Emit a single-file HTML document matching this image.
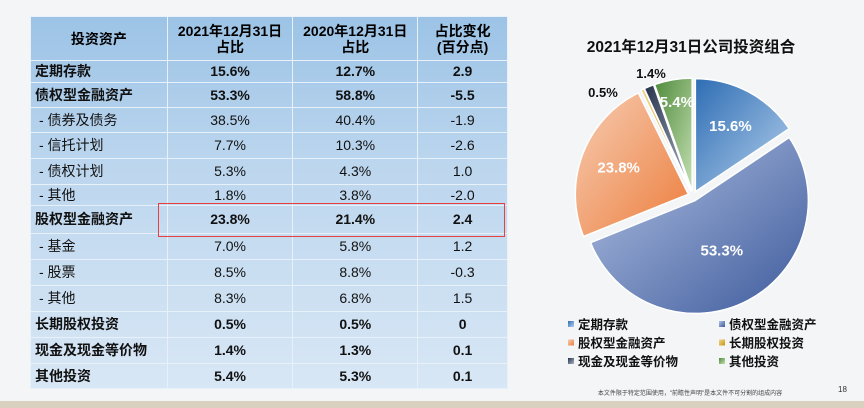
<!DOCTYPE html>
<html><head><meta charset="utf-8"><style>
body{margin:0;width:864px;height:408px;overflow:hidden;background:#f3f5f6;font-family:"Liberation Sans","Noto Sans CJK SC",sans-serif;position:relative}
table{position:absolute;left:30px;top:16px;border-collapse:collapse;width:478px;background:linear-gradient(#9cc3e6,#bcd6ee 40%,#d8e7f5)}
td{border:1.5px solid #e8f1fa;font-size:14px;color:#111;text-align:center;padding:0;line-height:15px}
td:first-child{text-align:left;padding-left:4px}
tr.b td{font-weight:bold}
tr.s td:first-child{padding-left:8px}
th{border:1.5px solid #e8f1fa;font-size:14px;font-weight:bold;line-height:16px}
</style></head><body>
<div style="position:absolute;left:0;top:401px;width:864px;height:7px;background:#d9d0bf"></div>
<table>
<colgroup><col style="width:137px"><col style="width:126px"><col style="width:125px"><col style="width:90px"></colgroup>
<tr style="height:44px"><th>投资资产</th><th>2021年12月31日<br>占比</th><th>2020年12月31日<br>占比</th><th>占比变化<br>(百分点)</th></tr>
<tr class="b" style="height:22px"><td>定期存款</td><td>15.6%</td><td>12.7%</td><td>2.9</td></tr>
<tr class="b" style="height:25px"><td>债权型金融资产</td><td>53.3%</td><td>58.8%</td><td>-5.5</td></tr>
<tr class="s" style="height:25px"><td>- 债券及债务</td><td>38.5%</td><td>40.4%</td><td>-1.9</td></tr>
<tr class="s" style="height:26px"><td>- 信托计划</td><td>7.7%</td><td>10.3%</td><td>-2.6</td></tr>
<tr class="s" style="height:26px"><td>- 债权计划</td><td>5.3%</td><td>4.3%</td><td>1.0</td></tr>
<tr class="s" style="height:21px"><td>- 其他</td><td>1.8%</td><td>3.8%</td><td>-2.0</td></tr>
<tr class="b" style="height:28px"><td>股权型金融资产</td><td>23.8%</td><td>21.4%</td><td>2.4</td></tr>
<tr class="s" style="height:26px"><td>- 基金</td><td>7.0%</td><td>5.8%</td><td>1.2</td></tr>
<tr class="s" style="height:26px"><td>- 股票</td><td>8.5%</td><td>8.8%</td><td>-0.3</td></tr>
<tr class="s" style="height:26px"><td>- 其他</td><td>8.3%</td><td>6.8%</td><td>1.5</td></tr>
<tr class="b" style="height:26px"><td>长期股权投资</td><td>0.5%</td><td>0.5%</td><td>0</td></tr>
<tr class="b" style="height:26px"><td>现金及现金等价物</td><td>1.4%</td><td>1.3%</td><td>0.1</td></tr>
<tr class="b" style="height:25px"><td>其他投资</td><td>5.4%</td><td>5.3%</td><td>0.1</td></tr>
</table>
<div style="position:absolute;left:158px;top:203px;width:345px;height:32px;border:1.5px solid #e8403f"></div>
<svg id="pie" width="864" height="408" style="position:absolute;left:0;top:0">
<defs>
<linearGradient id="g0" x1="0" y1="0" x2="1" y2="1"><stop offset="0" stop-color="#2e6db4"/><stop offset="1" stop-color="#b4d0ec"/></linearGradient>
<linearGradient id="g1" x1="0" y1="0" x2="1" y2="1"><stop offset="0" stop-color="#b3c3e3"/><stop offset="1" stop-color="#3d5a9c"/></linearGradient>
<linearGradient id="g2" x1="0" y1="0" x2="1" y2="1"><stop offset="0" stop-color="#f6cdb3"/><stop offset="1" stop-color="#ed7d3c"/></linearGradient>
<linearGradient id="g3" x1="0" y1="0" x2="1" y2="1"><stop offset="0" stop-color="#f2d68a"/><stop offset="1" stop-color="#c8960e"/></linearGradient>
<linearGradient id="g4" x1="0" y1="0" x2="1" y2="1"><stop offset="0" stop-color="#26324a"/><stop offset="1" stop-color="#aab4c6"/></linearGradient>
<linearGradient id="g5" x1="0" y1="0" x2="1" y2="1"><stop offset="0" stop-color="#4f8a3c"/><stop offset="1" stop-color="#c4e0b2"/></linearGradient>
</defs>
<text x="691" y="52" text-anchor="middle" font-size="15.5" font-weight="bold" fill="#111">2021年12月31日公司投资组合</text>
<g id="slices"></g>
<g id="legend"></g>
<text x="690" y="395" text-anchor="middle" font-size="6" fill="#444">本文件限于特定范围使用，"前瞻性声明"是本文件不可分割的组成内容</text>
<text x="838" y="392" font-size="8" fill="#333">18</text>
</svg>
<script>
const categories=["定期存款","债权型金融资产","股权型金融资产","长期股权投资","现金及现金等价物","其他投资"];
const values=[15.6,53.3,23.8,0.5,1.4,5.4];
const labels=["15.6%","53.3%","23.8%","0.5%","1.4%","5.4%"];
const ns="http://www.w3.org/2000/svg";
const cx=693,cy=196,r=113;
const total=values.reduce((a,b)=>a+b,0);
const gS=document.getElementById('slices'),gL=document.getElementById('legend');
let a=0;
function pt(ang,rad,ox,oy){return [ox+rad*Math.sin(ang),oy-rad*Math.cos(ang)];}
values.forEach((v,i)=>{
 const a0=a/total*2*Math.PI;a+=v;const a1=a/total*2*Math.PI;const mid=(a0+a1)/2;
 const off=5;const ox=cx+off*Math.sin(mid),oy=cy-off*Math.cos(mid);
 const p0=pt(a0,r,ox,oy),p1=pt(a1,r,ox,oy);
 const p=document.createElementNS(ns,'path');
 p.setAttribute('d',`M${ox},${oy}L${p0[0]},${p0[1]}A${r},${r} 0 ${a1-a0>Math.PI?1:0} 1 ${p1[0]},${p1[1]}Z`);
 p.setAttribute('fill',`url(#g${i})`);p.setAttribute('stroke','#fff');p.setAttribute('stroke-width','1.5');
 
 
 gS.appendChild(p);
 const t=document.createElementNS(ns,'text');
 let lp,col='#fff';
 if(v<3){lp=i==3?[603,92]:[651,73];col='#111';}
 else if(v<10){lp=pt(mid,r*0.8,ox,oy);}
 else if(v>50){lp=pt(mid,r*0.5,ox,oy);}
 else lp=pt(mid,r*0.66,ox,oy);
 t.setAttribute('x',lp[0]);t.setAttribute('y',lp[1]+5);t.setAttribute('text-anchor','middle');
 t.setAttribute('font-size',v<3?'13':'15');t.setAttribute('font-weight','bold');t.setAttribute('fill',col);
 t.textContent=labels[i];
 
 
 gS.appendChild(t);
 const lx=i%2?719:568,ly=325+Math.floor(i/2)*18.5;
 const s=document.createElementNS(ns,'rect');
 s.setAttribute('x',lx);s.setAttribute('y',ly-4);s.setAttribute('width',6);s.setAttribute('height',6);s.setAttribute('fill',`url(#g${i})`);
 
 
 gL.appendChild(s);
 const lt=document.createElementNS(ns,'text');
 lt.setAttribute('x',lx+10);lt.setAttribute('y',ly+4);lt.setAttribute('font-size','12.5');lt.setAttribute('font-weight','bold');lt.setAttribute('fill','#111');
 lt.textContent=categories[i];
 
 
 gL.appendChild(lt);
});
</script>
</body></html>
